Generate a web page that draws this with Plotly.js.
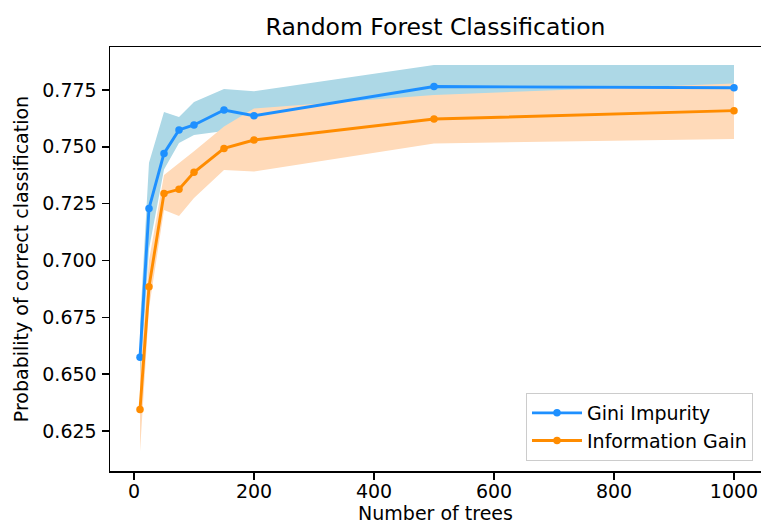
<!DOCTYPE html>
<html>
<head>
<meta charset="utf-8">
<script src="https://cdn.plot.ly/plotly-3.0.1.min.js"></script>
<style>html,body{margin:0;padding:0;background:#fff;}#chart{width:761px;height:530px;}</style>
</head>
<body>
<div id="chart"></div>
<script>
// Number of trees
const nTrees = [10, 25, 50, 75, 100, 150, 200, 500, 1000];
// Gini Impurity: mean and band bounds
const giniMean  = [0.6574, 0.7229, 0.7471, 0.7574, 0.7596, 0.7662, 0.7637, 0.7765, 0.7760];
const giniUpper = [0.6720, 0.7430, 0.7653, 0.7631, 0.7697, 0.7754, 0.7744, 0.7860, 0.7860];
const giniLower = [0.6450, 0.7050, 0.7400, 0.7517, 0.7552, 0.7570, 0.7560, 0.7660, 0.7660];
// Information Gain: mean and band bounds
const infoMean  = [0.6345, 0.6884, 0.7295, 0.7313, 0.7388, 0.7493, 0.7530, 0.7622, 0.7659];
const infoUpper = [0.6500, 0.7000, 0.7376, 0.7427, 0.7480, 0.7589, 0.7669, 0.7728, 0.7779];
const infoLower = [0.6160, 0.6790, 0.7222, 0.7196, 0.7275, 0.7398, 0.7391, 0.7515, 0.7534];

const seriesNames = ['Gini Impurity', 'Information Gain'];
const yTicks = [0.625, 0.650, 0.675, 0.700, 0.725, 0.750, 0.775];
const xTicks = [0, 200, 400, 600, 800, 1000];

const FONT = 'DejaVu Sans, sans-serif';

function band(lower, upper, fill) {
  return [
    {x: nTrees, y: lower, type: 'scatter', mode: 'lines', line: {width: 0, color: fill},
     showlegend: false, hoverinfo: 'skip'},
    {x: nTrees, y: upper, type: 'scatter', mode: 'lines', line: {width: 0, color: fill},
     fill: 'tonexty', fillcolor: fill, showlegend: false, hoverinfo: 'skip'}
  ];
}

const traces = [
  ...band(giniLower, giniUpper, '#add8e6'),
  ...band(infoLower, infoUpper, '#ffdab9'),
  {x: nTrees, y: giniMean, type: 'scatter', mode: 'lines+markers', name: seriesNames[0],
   line: {color: '#1e90ff', width: 2.9}, marker: {color: '#1e90ff', size: 7.5}},
  {x: nTrees, y: infoMean, type: 'scatter', mode: 'lines+markers', name: seriesNames[1],
   line: {color: '#ff8c00', width: 2.9}, marker: {color: '#ff8c00', size: 7.5}}
];

const axisCommon = {
  showgrid: false, zeroline: false, showline: true, linecolor: '#000', linewidth: 1.5,
  ticks: 'outside', ticklen: 7, tickwidth: 1.5, tickcolor: '#000',
  tickfont: {family: FONT, size: 19, color: '#000'}
};

const layout = {
  width: 761, height: 530,
  margin: {l: 110, r: 0, t: 47, b: 59},
  paper_bgcolor: '#fff', plot_bgcolor: '#fff',
  font: {family: FONT, color: '#000'},
  title: {text: 'Random Forest Classification', font: {family: FONT, size: 23.5, color: '#000'},
          x: 0.5, xref: 'paper', xanchor: 'center', y: 1, yref: 'paper', yanchor: 'bottom', pad: {b: 12}},
  xaxis: Object.assign({}, axisCommon, {
    range: [-40, 1045], tickvals: xTicks, ticktext: xTicks.map(String), mirror: true,
    ticklabelstandoff: -4,
    title: {text: 'Number of trees', font: {family: FONT, size: 19, color: '#000'}, standoff: 4}
  }),
  yaxis: Object.assign({}, axisCommon, {
    range: [0.6074, 0.7939], tickvals: yTicks, ticktext: yTicks.map(v => v.toFixed(3)),
    ticklabelstandoff: 1,
    title: {text: 'Probability of correct classification', font: {family: FONT, size: 19, color: '#000'}, standoff: 8}
  }),
  legend: {x: 0.9877, xanchor: 'right', y: 0.0236, yanchor: 'bottom', traceorder: 'normal',
           itemwidth: 50, tracegroupgap: 0,
           bgcolor: 'rgba(255,255,255,0.8)', bordercolor: '#cccccc', borderwidth: 1,
           font: {family: FONT, size: 19, color: '#000'}},
  showlegend: true
};

Plotly.newPlot('chart', traces, layout, {staticPlot: true, displayModeBar: false});
</script>
</body>
</html>
